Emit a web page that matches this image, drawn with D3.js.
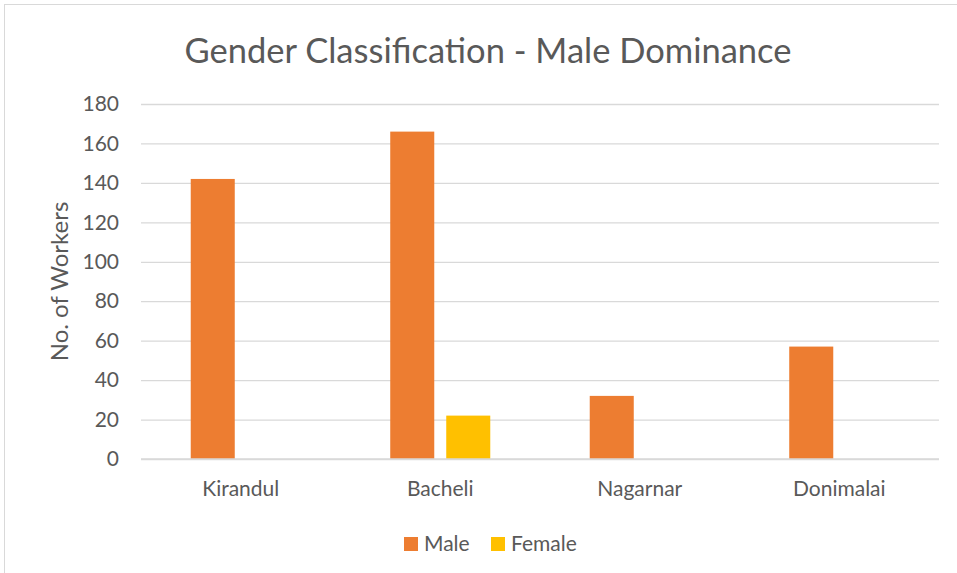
<!DOCTYPE html>
<html><head><meta charset="utf-8">
<script src="https://cdn.jsdelivr.net/npm/d3@7"></script>
<style>body{margin:0;background:#fff;}svg{display:block;font-family:Lato,"Open Sans",sans-serif;}</style>
</head><body><svg id="c" width="957" height="573"></svg>
<script>
const categories = ["Kirandul","Bacheli","Nagarnar","Donimalai"];
const seriesNames = ["Male","Female"];
const maleValues = [142,166,32,57];
const femaleValues = [0,22,0,0];
const yTicks = [0,20,40,60,80,100,120,140,160,180];
const colors = {Male:"#ED7D31", Female:"#FFC000"};

const svg = d3.select("#c");
svg.append("rect").attr("x",4.5).attr("y",4.5).attr("width",960).attr("height",580)
  .attr("fill","#fff").attr("stroke","#D9D9D9");

const m = {l:141, r:939, t:104, b:459};
const x = d3.scaleBand().domain(categories).range([m.l,m.r]).paddingInner(0).paddingOuter(0);
const xs = d3.scaleBand().domain(seriesNames).range([0,x.bandwidth()]).paddingInner(0.214).paddingOuter(0.888);
const y = d3.scaleLinear().domain([0,180]).range([m.b,m.t]);

const yAxis = svg.append("g").attr("transform",`translate(${m.l},0)`)
  .call(d3.axisLeft(y).tickValues(yTicks).tickSize(-(m.r-m.l)).tickPadding(22));
yAxis.select(".domain").remove();
yAxis.selectAll(".tick line").attr("stroke","#D9D9D9").attr("stroke-width",1.3);
yAxis.selectAll(".tick text").attr("fill","#595959").style("font-size","21px").style("font-family","Lato,'Open Sans',sans-serif");

const data = categories.map((c,i)=>({cat:c, vals:[{s:"Male",v:maleValues[i]},{s:"Female",v:femaleValues[i]}]}));
const g = svg.append("g");
data.forEach(d=>{
  d.vals.forEach(v=>{
    if(v.v<=0) return;
    g.append("rect").attr("x",x(d.cat)+xs(v.s)).attr("width",xs.bandwidth())
      .attr("y",y(v.v)).attr("height",y(0)-y(v.v)).attr("fill",colors[v.s]);
  });
});
svg.append("line").attr("x1",m.l).attr("x2",m.r).attr("y1",y(0)).attr("y2",y(0)).attr("stroke","#D9D9D9").attr("stroke-width",1.3);

const xAxis = svg.append("g").attr("transform",`translate(0,${m.b})`).call(d3.axisBottom(x).tickSize(0).tickPadding(22));
xAxis.select(".domain").remove();
xAxis.selectAll(".tick text").attr("fill","#595959").style("font-size","21px").style("font-family","Lato,'Open Sans',sans-serif");

svg.append("text").attr("x",488).attr("y",63).attr("text-anchor","middle")
  .attr("fill","#595959").style("font-size","34.5px").text("Gender Classification - Male Dominance");

svg.append("text").attr("transform",`translate(68,${(m.t+m.b)/2}) rotate(-90)`).attr("text-anchor","middle")
  .attr("fill","#595959").style("font-size","24px").text("No. of Workers");

const leg = svg.append("g");
const legX = [404,491];
seriesNames.forEach((s,i)=>{
  leg.append("rect").attr("x",legX[i]).attr("y",537).attr("width",14).attr("height",14).attr("fill",colors[s]);
  leg.append("text").attr("x",legX[i]+20).attr("y",551).attr("fill","#595959").style("font-size","21px").text(s);
});
</script></body></html>
